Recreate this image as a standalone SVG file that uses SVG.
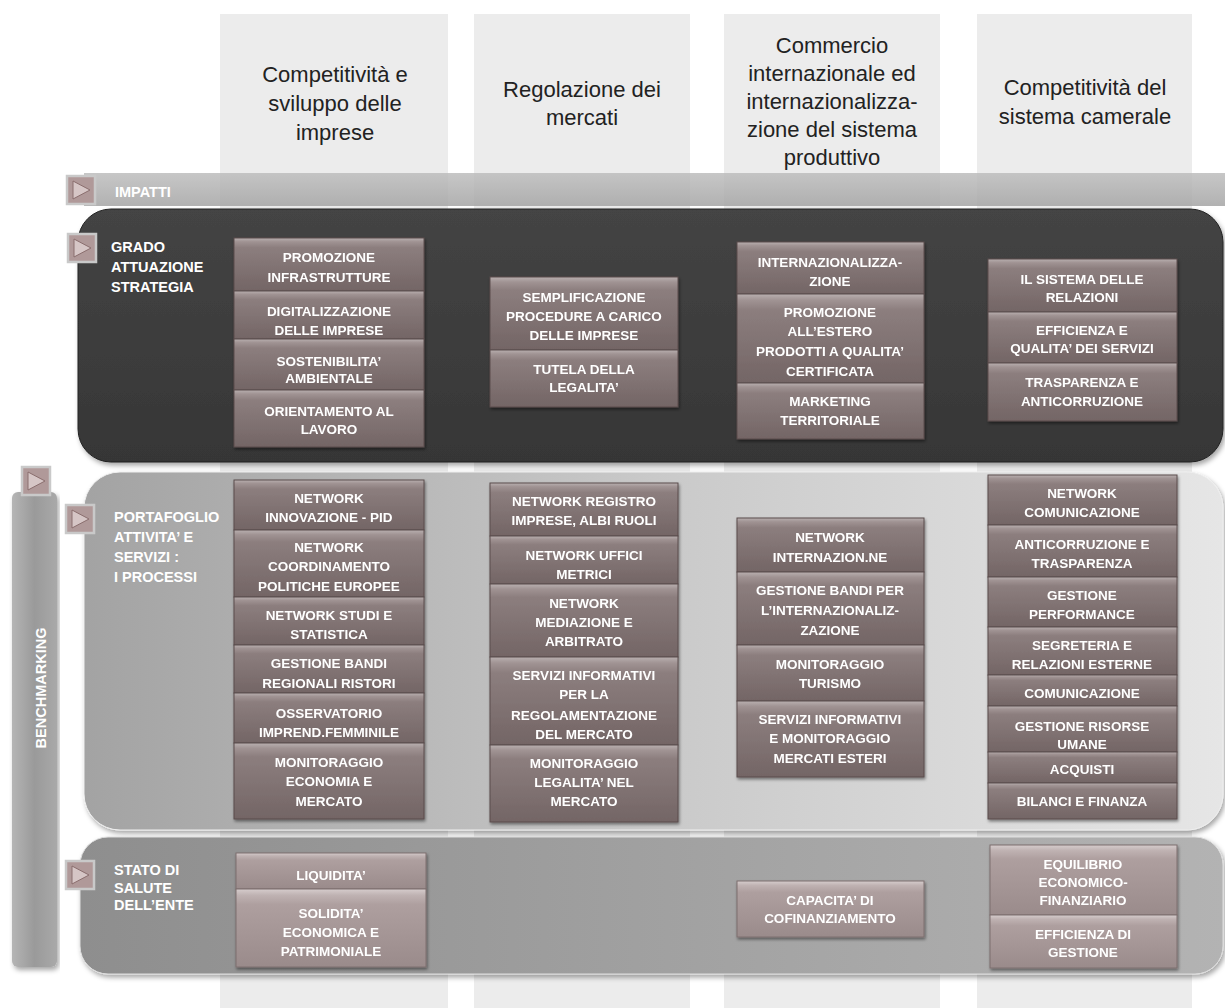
<svg xmlns="http://www.w3.org/2000/svg" width="1225" height="1008" viewBox="0 0 1225 1008">
<defs>
<linearGradient id="gBox" x1="0" y1="0" x2="0" y2="1">
<stop offset="0" stop-color="#b9b0b0"/><stop offset="0.07" stop-color="#a09393"/><stop offset="0.18" stop-color="#8c7e7e"/><stop offset="1" stop-color="#736565"/>
</linearGradient>
<linearGradient id="gBoxL" x1="0" y1="0" x2="0" y2="1">
<stop offset="0" stop-color="#d6cdcd"/><stop offset="0.08" stop-color="#bfb2b2"/><stop offset="0.2" stop-color="#ae9f9f"/><stop offset="1" stop-color="#9a8b8b"/>
</linearGradient>
<linearGradient id="gDark" x1="0" y1="0" x2="0" y2="1">
<stop offset="0" stop-color="#444"/><stop offset="1" stop-color="#363636"/>
</linearGradient>
<linearGradient id="gPort" x1="0" y1="0" x2="1" y2="0">
<stop offset="0" stop-color="#a3a3a3"/><stop offset="0.5" stop-color="#c9c9c9"/><stop offset="1" stop-color="#e6e6e6"/>
</linearGradient>
<linearGradient id="gBot" x1="0" y1="0" x2="1" y2="0">
<stop offset="0" stop-color="#8e8e8e"/><stop offset="1" stop-color="#b3b3b3"/>
</linearGradient>
<linearGradient id="gBench" x1="0" y1="0" x2="1" y2="0">
<stop offset="0" stop-color="#b5b5b5"/><stop offset="0.5" stop-color="#9a9a9a"/><stop offset="1" stop-color="#a9a9a9"/>
</linearGradient>
<linearGradient id="gBand" x1="0" y1="0" x2="0" y2="1">
<stop offset="0" stop-color="#bdbdbd"/><stop offset="1" stop-color="#a4a4a4"/>
</linearGradient>
<filter id="sh" x="-10%" y="-10%" width="120%" height="130%">
<feDropShadow dx="1" dy="2" stdDeviation="1.5" flood-color="#000" flood-opacity="0.45"/>
</filter>
<filter id="shP" x="-5%" y="-5%" width="110%" height="115%">
<feDropShadow dx="2" dy="3" stdDeviation="2.5" flood-color="#000" flood-opacity="0.35"/>
</filter>
<g id="icon">
<rect x="0" y="0" width="28" height="28" fill="#b09999" stroke="#c9c9c9" stroke-width="2.5"/>
<path d="M6,5 L23,14 L6,23 Z" fill="#d6c6c6" stroke="#8a6e6e" stroke-width="1"/>
</g>
</defs>
<style>
.col{fill:#ececec}
.hdr{font-family:"Liberation Sans",Arial,sans-serif;font-size:22px;fill:#222;text-anchor:middle}
.lbl{font-family:"Liberation Sans",Arial,sans-serif;font-size:14.5px;font-weight:bold;fill:#fff}
.bx{fill:url(#gBox);stroke:#5a4c4c;stroke-width:1}
.bxl{fill:url(#gBoxL);stroke:#7c6e6e;stroke-width:1}
.bt{font-family:"Liberation Sans",Arial,sans-serif;font-size:13.5px;font-weight:bold;fill:#fff;text-anchor:middle}
</style>
<rect width="1225" height="1008" fill="#fff"/>

<g id="columns">
<rect class="col" x="220" y="14" width="228" height="994"/>
<rect class="col" x="474" y="14" width="216" height="994"/>
<rect class="col" x="724" y="14" width="216" height="994"/>
<rect class="col" x="977" y="14" width="215" height="994"/>
</g>

<g id="headers">
<g id="h1"><text class="hdr" x="335" y="82">Competitività e</text><text class="hdr" x="335" y="111">sviluppo delle</text><text class="hdr" x="335" y="140">imprese</text></g>
<g id="h2"><text class="hdr" x="582" y="97">Regolazione dei</text><text class="hdr" x="582" y="125">mercati</text></g>
<g id="h3"><text class="hdr" x="832" y="53">Commercio</text><text class="hdr" x="832" y="81">internazionale ed</text><text class="hdr" x="832" y="109">internazionalizza-</text><text class="hdr" x="832" y="137">zione del sistema</text><text class="hdr" x="832" y="165">produttivo</text></g>
<g id="h4"><text class="hdr" x="1085" y="95">Competitività del</text><text class="hdr" x="1085" y="124">sistema camerale</text></g>
</g>

<g id="impatti">
<rect x="84" y="173" width="1141" height="33" fill="url(#gBand)" opacity="0.85"/>
<use href="#icon" x="67" y="176"/>
<text class="lbl" x="115" y="197">IMPATTI</text>
</g>

<g id="strategia">
<rect x="78" y="209" width="1145" height="253" rx="33" fill="url(#gDark)" stroke="#222" filter="url(#shP)"/>
<use href="#icon" x="68" y="234"/>
<text class="lbl" x="111" y="252">GRADO</text>
<text class="lbl" x="111" y="272">ATTUAZIONE</text>
<text class="lbl" x="111" y="292">STRATEGIA</text>
</g>

<g id="portafoglio">
<rect x="84" y="472" width="1139" height="358" rx="36" fill="url(#gPort)" stroke="#eee" filter="url(#shP)"/>
<use href="#icon" x="66" y="505"/>
<text class="lbl" x="114" y="522">PORTAFOGLIO</text>
<text class="lbl" x="114" y="542">ATTIVITA’ E</text>
<text class="lbl" x="114" y="562">SERVIZI :</text>
<text class="lbl" x="114" y="582">I PROCESSI</text>
</g>

<g id="salute">
<rect x="80" y="837" width="1143" height="137" rx="28" fill="url(#gBot)" stroke="#ddd" filter="url(#shP)"/>
<use href="#icon" x="66" y="861"/>
<text class="lbl" x="114" y="875">STATO DI</text>
<text class="lbl" x="114" y="892.5">SALUTE</text>
<text class="lbl" x="114" y="910">DELL’ENTE</text>
</g>

<g id="benchmarking">
<rect x="12" y="492" width="45" height="475" rx="6" fill="url(#gBench)" filter="url(#shP)"/>
<use href="#icon" x="22" y="467"/>
<text class="lbl" x="0" y="0" text-anchor="middle" font-size="15" transform="translate(46,688) rotate(-90)">BENCHMARKING</text>
</g>

<!-- Strategy boxes -->
<g id="s-c1" filter="url(#sh)">
<g id="s1"><rect class="bx" x="234" y="238" width="190" height="53"/><text class="bt" x="329" y="262">PROMOZIONE</text><text class="bt" x="329" y="282">INFRASTRUTTURE</text></g>
<g id="s2"><rect class="bx" x="234" y="291" width="190" height="48"/><text class="bt" x="329" y="316">DIGITALIZZAZIONE</text><text class="bt" x="329" y="335">DELLE IMPRESE</text></g>
<g id="s3"><rect class="bx" x="234" y="339" width="190" height="51"/><text class="bt" x="329" y="366">SOSTENIBILITA’</text><text class="bt" x="329" y="383">AMBIENTALE</text></g>
<g id="s4"><rect class="bx" x="234" y="390" width="190" height="57"/><text class="bt" x="329" y="416">ORIENTAMENTO AL</text><text class="bt" x="329" y="434">LAVORO</text></g>
</g>
<g id="s-c2" filter="url(#sh)">
<g id="s5"><rect class="bx" x="490" y="277" width="188" height="73"/><text class="bt" x="584" y="302">SEMPLIFICAZIONE</text><text class="bt" x="584" y="321">PROCEDURE A CARICO</text><text class="bt" x="584" y="340">DELLE IMPRESE</text></g>
<g id="s6"><rect class="bx" x="490" y="350" width="188" height="57"/><text class="bt" x="584" y="374">TUTELA DELLA</text><text class="bt" x="584" y="392">LEGALITA’</text></g>
</g>
<g id="s-c3" filter="url(#sh)">
<g id="s7"><rect class="bx" x="737" y="242" width="187" height="52"/><text class="bt" x="830" y="267">INTERNAZIONALIZZA-</text><text class="bt" x="830" y="286">ZIONE</text></g>
<g id="s8"><rect class="bx" x="737" y="294" width="187" height="89"/><text class="bt" x="830" y="317">PROMOZIONE</text><text class="bt" x="830" y="336">ALL’ESTERO</text><text class="bt" x="830" y="356">PRODOTTI A QUALITA’</text><text class="bt" x="830" y="376">CERTIFICATA</text></g>
<g id="s9"><rect class="bx" x="737" y="383" width="187" height="56"/><text class="bt" x="830" y="406">MARKETING</text><text class="bt" x="830" y="425">TERRITORIALE</text></g>
</g>
<g id="s-c4" filter="url(#sh)">
<g id="s10"><rect class="bx" x="988" y="259" width="189" height="53"/><text class="bt" x="1082" y="284">IL SISTEMA DELLE</text><text class="bt" x="1082" y="302">RELAZIONI</text></g>
<g id="s11"><rect class="bx" x="988" y="312" width="189" height="51"/><text class="bt" x="1082" y="335">EFFICIENZA E</text><text class="bt" x="1082" y="353">QUALITA’ DEI SERVIZI</text></g>
<g id="s12"><rect class="bx" x="988" y="363" width="189" height="58"/><text class="bt" x="1082" y="387">TRASPARENZA E</text><text class="bt" x="1082" y="406">ANTICORRUZIONE</text></g>
</g>

<!-- Portfolio boxes -->
<g id="p-c1" filter="url(#sh)">
<g id="p1"><rect class="bx" x="234" y="480" width="190" height="50"/><text class="bt" x="329" y="503">NETWORK</text><text class="bt" x="329" y="522">INNOVAZIONE - PID</text></g>
<g id="p2"><rect class="bx" x="234" y="530" width="190" height="67"/><text class="bt" x="329" y="552">NETWORK</text><text class="bt" x="329" y="571">COORDINAMENTO</text><text class="bt" x="329" y="591">POLITICHE EUROPEE</text></g>
<g id="p3"><rect class="bx" x="234" y="597" width="190" height="48"/><text class="bt" x="329" y="620">NETWORK STUDI E</text><text class="bt" x="329" y="639">STATISTICA</text></g>
<g id="p4"><rect class="bx" x="234" y="645" width="190" height="48"/><text class="bt" x="329" y="668">GESTIONE BANDI</text><text class="bt" x="329" y="688">REGIONALI RISTORI</text></g>
<g id="p5"><rect class="bx" x="234" y="693" width="190" height="50"/><text class="bt" x="329" y="718">OSSERVATORIO</text><text class="bt" x="329" y="737">IMPREND.FEMMINILE</text></g>
<g id="p6"><rect class="bx" x="234" y="743" width="190" height="76"/><text class="bt" x="329" y="767">MONITORAGGIO</text><text class="bt" x="329" y="786">ECONOMIA E</text><text class="bt" x="329" y="806">MERCATO</text></g>
</g>
<g id="p-c2" filter="url(#sh)">
<g id="p7"><rect class="bx" x="490" y="483" width="188" height="53"/><text class="bt" x="584" y="506">NETWORK REGISTRO</text><text class="bt" x="584" y="525">IMPRESE, ALBI RUOLI</text></g>
<g id="p8"><rect class="bx" x="490" y="536" width="188" height="48"/><text class="bt" x="584" y="560">NETWORK UFFICI</text><text class="bt" x="584" y="579">METRICI</text></g>
<g id="p9"><rect class="bx" x="490" y="584" width="188" height="73"/><text class="bt" x="584" y="608">NETWORK</text><text class="bt" x="584" y="627">MEDIAZIONE E</text><text class="bt" x="584" y="646">ARBITRATO</text></g>
<g id="p10"><rect class="bx" x="490" y="657" width="188" height="88"/><text class="bt" x="584" y="680">SERVIZI INFORMATIVI</text><text class="bt" x="584" y="699">PER LA</text><text class="bt" x="584" y="720">REGOLAMENTAZIONE</text><text class="bt" x="584" y="739">DEL MERCATO</text></g>
<g id="p11"><rect class="bx" x="490" y="745" width="188" height="77"/><text class="bt" x="584" y="768">MONITORAGGIO</text><text class="bt" x="584" y="787">LEGALITA’ NEL</text><text class="bt" x="584" y="806">MERCATO</text></g>
</g>
<g id="p-c3" filter="url(#sh)">
<g id="p12"><rect class="bx" x="737" y="518" width="187" height="54"/><text class="bt" x="830" y="542">NETWORK</text><text class="bt" x="830" y="562">INTERNAZION.NE</text></g>
<g id="p13"><rect class="bx" x="737" y="572" width="187" height="73"/><text class="bt" x="830" y="595">GESTIONE BANDI PER</text><text class="bt" x="830" y="615">L’INTERNAZIONALIZ-</text><text class="bt" x="830" y="635">ZAZIONE</text></g>
<g id="p14"><rect class="bx" x="737" y="645" width="187" height="56"/><text class="bt" x="830" y="669">MONITORAGGIO</text><text class="bt" x="830" y="688">TURISMO</text></g>
<g id="p15"><rect class="bx" x="737" y="701" width="187" height="76"/><text class="bt" x="830" y="724">SERVIZI INFORMATIVI</text><text class="bt" x="830" y="743">E MONITORAGGIO</text><text class="bt" x="830" y="763">MERCATI ESTERI</text></g>
</g>
<g id="p-c4" filter="url(#sh)">
<g id="p16"><rect class="bx" x="988" y="475" width="189" height="50"/><text class="bt" x="1082" y="498">NETWORK</text><text class="bt" x="1082" y="517">COMUNICAZIONE</text></g>
<g id="p17"><rect class="bx" x="988" y="525" width="189" height="52"/><text class="bt" x="1082" y="549">ANTICORRUZIONE E</text><text class="bt" x="1082" y="568">TRASPARENZA</text></g>
<g id="p18"><rect class="bx" x="988" y="577" width="189" height="50"/><text class="bt" x="1082" y="600">GESTIONE</text><text class="bt" x="1082" y="619">PERFORMANCE</text></g>
<g id="p19"><rect class="bx" x="988" y="627" width="189" height="48"/><text class="bt" x="1082" y="650">SEGRETERIA E</text><text class="bt" x="1082" y="669">RELAZIONI ESTERNE</text></g>
<g id="p20"><rect class="bx" x="988" y="675" width="189" height="31"/><text class="bt" x="1082" y="698">COMUNICAZIONE</text></g>
<g id="p21"><rect class="bx" x="988" y="706" width="189" height="46"/><text class="bt" x="1082" y="731">GESTIONE RISORSE</text><text class="bt" x="1082" y="749">UMANE</text></g>
<g id="p22"><rect class="bx" x="988" y="752" width="189" height="31"/><text class="bt" x="1082" y="774">ACQUISTI</text></g>
<g id="p23"><rect class="bx" x="988" y="783" width="189" height="36"/><text class="bt" x="1082" y="806">BILANCI E FINANZA</text></g>
</g>

<!-- Salute boxes -->
<g id="b-c1" filter="url(#sh)">
<g id="b1"><rect class="bxl" x="236" y="853" width="190" height="36"/><text class="bt" x="331" y="880">LIQUIDITA’</text></g>
<g id="b2"><rect class="bxl" x="236" y="889" width="190" height="78"/><text class="bt" x="331" y="918">SOLIDITA’</text><text class="bt" x="331" y="937">ECONOMICA E</text><text class="bt" x="331" y="956">PATRIMONIALE</text></g>
</g>
<g id="b-c3" filter="url(#sh)">
<g id="b3"><rect class="bxl" x="737" y="881" width="187" height="56"/><text class="bt" x="830" y="905">CAPACITA’ DI</text><text class="bt" x="830" y="923">COFINANZIAMENTO</text></g>
</g>
<g id="b-c4" filter="url(#sh)">
<g id="b4"><rect class="bxl" x="990" y="845" width="187" height="70"/><text class="bt" x="1083" y="869">EQUILIBRIO</text><text class="bt" x="1083" y="887">ECONOMICO-</text><text class="bt" x="1083" y="905">FINANZIARIO</text></g>
<g id="b5"><rect class="bxl" x="990" y="915" width="187" height="53"/><text class="bt" x="1083" y="939">EFFICIENZA DI</text><text class="bt" x="1083" y="957">GESTIONE</text></g>
</g>

<g id="connectors"/>
</svg>
